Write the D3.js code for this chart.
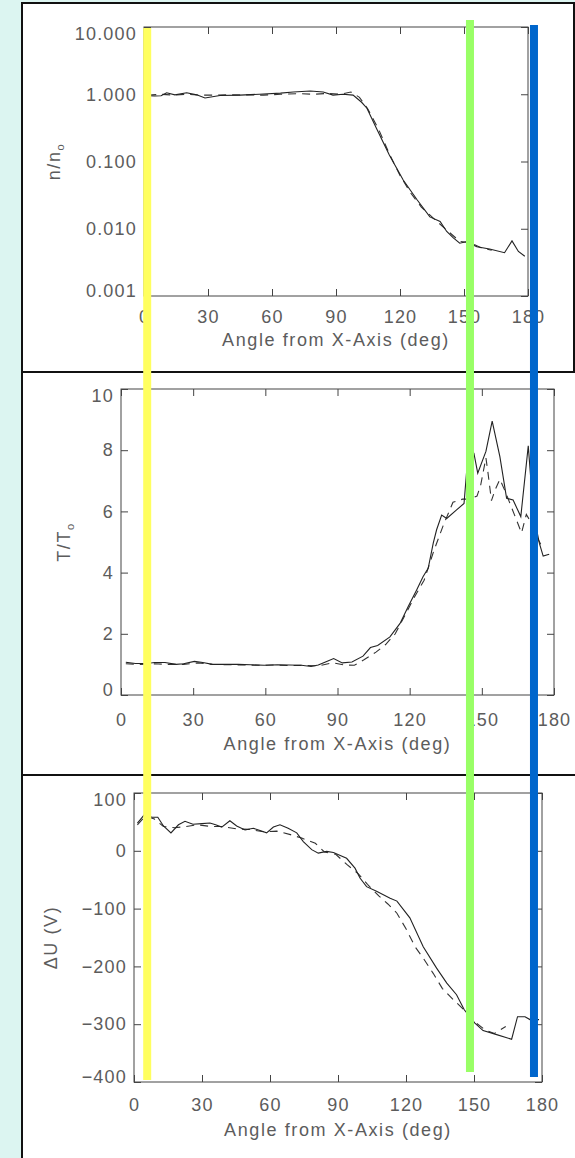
<!DOCTYPE html>
<html>
<head>
<meta charset="utf-8">
<script src="https://cdn.jsdelivr.net/npm/d3@7"></script>
<style>
  html, body { margin: 0; padding: 0; background: #dcf5f1; }
  svg { display: block; }
  .axis text { font-family: "Liberation Sans", Arial, sans-serif; font-size: 18px; letter-spacing: 1.2px; fill: #5c5c5c; }
  .axis path, .axis line { stroke: #444; stroke-width: 1; }
  .title { font-family: "Liberation Sans", Arial, sans-serif; font-size: 18px; letter-spacing: 1.6px; fill: #5c5c5c; }
</style>
</head>
<body>
<svg width="575" height="1158"></svg>
<script>
// tick labels
var angleTicks = [0, 30, 60, 90, 120, 150, 180];
var densTicks = [0.001, 0.01, 0.1, 1, 10];
var tempTicks = [0, 2, 4, 6, 8, 10];
var potTicks = [-400, -300, -200, -100, 0, 100];

// n/n0 vs angle, solid = measured, dashed = model
var densAngle = [2, 5, 8, 10.6, 14.5, 20, 24.7, 28.6, 35.6, 45, 54, 64, 70, 78, 84, 88.6, 93.3, 98, 102, 104.5, 109, 115, 121.5, 128, 134, 138.8, 141.9, 145, 148, 151, 156, 162, 169, 172.5, 175.5, 178.5];
var densSolid = [0.95, 0.94, 0.95, 1.05, 0.98, 1.05, 0.98, 0.88, 0.96, 0.97, 1.0, 1.04, 1.08, 1.12, 1.08, 0.97, 1.0, 0.97, 0.76, 0.62, 0.31, 0.125, 0.053, 0.027, 0.015, 0.0128, 0.0091, 0.0073, 0.0061, 0.0064, 0.0054, 0.005, 0.0044, 0.0066, 0.0046, 0.0039];
var densDashAngle = [2, 8, 14, 20, 26, 32, 40, 48, 56, 64, 72, 80, 86, 92, 97, 101, 105, 110, 115, 120, 125, 130, 136, 142, 148, 153, 158, 163];
var densDash = [0.97, 1.0, 0.97, 1.0, 0.97, 0.97, 0.98, 0.98, 0.97, 1.0, 1.02, 1.0, 1.03, 1.0, 1.08, 0.9, 0.6, 0.3, 0.13, 0.062, 0.034, 0.021, 0.014, 0.0095, 0.0065, 0.0062, 0.0052, 0.0048];

// T/T0 vs angle
var tempAngle = [2, 6, 10.7, 14, 18.3, 22.9, 26, 30.5, 34, 38, 43, 48.7, 54, 59.5, 65, 70, 75, 79, 82, 85, 88.4, 92, 96, 100.6, 103.7, 106.7, 111.8, 116, 119.4, 122.9, 125.6, 127.7, 129.8, 131.2, 133.3, 135.4, 139.5, 142.6, 144.5, 146.7, 148.3, 151.7, 154.3, 157.5, 160.3, 163, 166.2, 169.3, 171.5, 173.9, 175.5, 178];
var tempSolid = [1.07, 1.03, 1.03, 1.06, 1.06, 1.0, 1.02, 1.1, 1.06, 1.0, 1.0, 1.0, 0.99, 0.97, 0.99, 0.98, 0.97, 0.93, 0.98, 1.08, 1.19, 1.05, 1.08, 1.27, 1.55, 1.62, 1.9, 2.34, 2.89, 3.43, 3.87, 4.14, 4.96, 5.4, 5.88, 5.77, 6.05, 6.26, 8.1, 7.9, 7.25, 7.96, 8.95, 7.79, 6.43, 6.37, 5.83, 8.14, 5.9, 4.96, 4.54, 4.6];
var tempDashAngle = [2, 8, 14, 20, 26, 32, 38, 45, 52, 58, 64, 70, 76, 82, 88, 93, 97, 101, 106, 110, 114, 118, 122, 126, 130, 134, 138, 142, 145, 148, 149.5, 151.7, 152.5, 154, 155.5, 157.5, 160, 162, 164, 166.5, 168.5, 170, 173, 175];
var tempDash = [1.02, 1.0, 1.02, 1.0, 1.0, 1.05, 1.0, 0.99, 0.98, 0.97, 0.98, 0.96, 0.97, 0.95, 1.05, 0.98, 0.97, 1.15, 1.4, 1.65, 2.0, 2.6, 3.2, 3.75, 4.7, 5.55, 6.3, 6.4, 6.4, 6.5, 6.85, 7.75, 7.3, 6.35, 6.7, 7.05, 6.6, 6.2, 5.8, 5.3, 5.9, 5.7, 5.15, 4.85];

// delta U vs angle
var potAngle = [1.5, 4.5, 8, 10.5, 13, 16.3, 19.6, 22.5, 26, 30, 33.5, 36, 38.7, 42.3, 45.3, 49, 52.6, 55.6, 58.5, 61.5, 64.4, 68, 71.8, 74.7, 78.4, 81.3, 85, 88, 91, 93.8, 97.5, 99.7, 102.6, 107, 113, 116, 121.7, 127.6, 133.5, 138, 142.3, 145.7, 150.4, 154, 160, 166.6, 169.2, 172.5, 174.7, 178.7];
var potSolid = [48, 62, 58, 58, 43, 31, 45, 51, 46, 47, 48, 45, 41, 52, 43, 36, 39, 35, 31, 41, 45, 39, 31, 16, 2, -4, -1, -3, -8, -13, -30, -47, -62, -70, -82, -87, -116, -166, -203, -229, -249, -275, -298, -311, -318, -326, -287, -287, -292, -292];
var potDashAngle = [1.5, 5, 9, 13, 18, 23, 28, 34, 39, 45, 51, 57, 63, 69, 74, 80, 84, 89, 94, 99, 103, 108, 112, 116, 120, 124, 128, 132, 136, 141, 145, 150, 155, 159, 164];
var potDash = [45, 60, 55, 42, 40, 42, 45, 42, 42, 38, 37, 33, 34, 28, 22, 13, -2, -6, -24, -40, -58, -78, -92, -108, -135, -166, -188, -212, -238, -258, -273, -295, -310, -316, -304];

// highlight bars, angles on the top panel's axis
var markerAngles = [1.5, 152.8, 182.8];
var markerColors = ["#ffff5f", "#99ff66", "#0066cc"];

var svg = d3.select("svg");

// panel backgrounds
var panels = [
  {x: 22, y: 3, w: 552, h: 369},
  {x: 22, y: 372, w: 600, h: 403},
  {x: 22, y: 775, w: 600, h: 420}
];
svg.selectAll("rect.panel")
  .data(panels)
  .enter().append("rect")
  .attr("class", "panel")
  .attr("x", function(d) { return d.x; })
  .attr("y", function(d) { return d.y; })
  .attr("width", function(d) { return d.w; })
  .attr("height", function(d) { return d.h; })
  .attr("fill", "#fff")
  .attr("stroke", "#111")
  .attr("stroke-width", 2);

function drawPanel(cfg) {
  var g = svg.append("g");
  var x = d3.scaleLinear().domain([0, 180]).range([cfg.left, cfg.right]);
  var y = cfg.y.range([cfg.bottom, cfg.top]);
  var lo = cfg.yTicks[0], hi = cfg.yTicks[cfg.yTicks.length - 1];

  g.append("rect")
    .attr("x", cfg.left).attr("y", cfg.top)
    .attr("width", cfg.right - cfg.left).attr("height", cfg.bottom - cfg.top)
    .attr("fill", "none").attr("stroke", "#444");

  g.append("g").attr("class", "axis")
    .attr("transform", "translate(0," + cfg.bottom + ")")
    .call(d3.axisBottom(x).tickValues(angleTicks).tickSizeInner(-7).tickSizeOuter(0).tickPadding(cfg.xPad));
  g.append("g").attr("class", "axis")
    .attr("transform", "translate(0," + cfg.top + ")")
    .call(d3.axisTop(x).tickValues(angleTicks).tickSizeInner(-7).tickSizeOuter(0).tickFormat(""));
  g.append("g").attr("class", "axis")
    .attr("transform", "translate(" + cfg.left + ",0)")
    .call(d3.axisLeft(y).tickValues(cfg.yTicks).tickFormat(cfg.fmt).tickSizeInner(-7).tickSizeOuter(0).tickPadding(7))
    .selectAll("text")
    // the end labels sit inside the frame, like the original
    .attr("y", function(d) { return d === hi ? 7 : d === lo ? -5 : 0; });
  g.append("g").attr("class", "axis")
    .attr("transform", "translate(" + cfg.right + ",0)")
    .call(d3.axisRight(y).tickValues(cfg.yTicks).tickSizeInner(-7).tickSizeOuter(0).tickFormat(""));
  g.selectAll(".axis .domain").remove();

  g.append("text").attr("class", "title")
    .attr("x", (cfg.left + cfg.right) / 2)
    .attr("y", cfg.titleY)
    .attr("text-anchor", "middle")
    .text("Angle from X-Axis (deg)");

  var yl = g.append("text").attr("class", "title")
    .attr("transform", "translate(" + cfg.labelX + "," + (cfg.top + cfg.bottom) / 2 + ") rotate(-90)")
    .attr("text-anchor", "middle");
  yl.append("tspan").text(cfg.label[0]);
  if (cfg.label[1]) {
    yl.append("tspan").attr("dy", 4).style("font-size", "11px").text(cfg.label[1]);
  }

  var line = d3.line()
    .x(function(d) { return x(d[0]); })
    .y(function(d) { return y(d[1]); });

  g.append("path")
    .attr("d", line(d3.zip(cfg.dashA, cfg.dash)))
    .attr("fill", "none").attr("stroke", "#333").attr("stroke-width", 1.1)
    .attr("stroke-dasharray", "8,6");
  g.append("path")
    .attr("d", line(d3.zip(cfg.solidA, cfg.solid)))
    .attr("fill", "none").attr("stroke", "#222").attr("stroke-width", 1.1);

  return x;
}

var xTop = drawPanel({
  left: 144, right: 528, top: 27, bottom: 296,
  y: d3.scaleLog().domain([0.001, 10]), yTicks: densTicks, fmt: d3.format(".3f"),
  xPad: 14, titleY: 346, labelX: 60, label: ["n/n", "o"],
  solidA: densAngle, solid: densSolid, dashA: densDashAngle, dash: densDash
});
drawPanel({
  left: 121, right: 554, top: 389, bottom: 695,
  y: d3.scaleLinear().domain([0, 10]), yTicks: tempTicks, fmt: d3.format("d"),
  xPad: 18, titleY: 750, labelX: 70, label: ["T/T", "o"],
  solidA: tempAngle, solid: tempSolid, dashA: tempDashAngle, dash: tempDash
});
drawPanel({
  left: 134, right: 542, top: 793, bottom: 1082,
  y: d3.scaleLinear().domain([-400, 100]), yTicks: potTicks, fmt: d3.format("d"),
  xPad: 16, titleY: 1136, labelX: 57, label: ["ΔU (V)"],
  solidA: potAngle, solid: potSolid, dashA: potDashAngle, dash: potDash
});

// vertical highlight bars across all three panels
svg.selectAll("rect.marker")
  .data(markerAngles)
  .enter().append("rect")
  .attr("class", "marker")
  .attr("x", function(d) { return xTop(d) - 4; })
  .attr("width", 8)
  .attr("y", function(d, i) { return [28, 20, 25][i]; })
  .attr("height", 1052)
  .attr("fill", function(d, i) { return markerColors[i]; });
</script>
</body>
</html>
